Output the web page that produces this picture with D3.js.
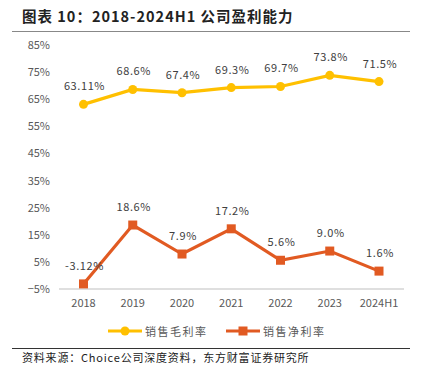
<!DOCTYPE html>
<html>
<head>
<meta charset="utf-8">
<script src="https://cdn.jsdelivr.net/npm/d3@7"></script>
<style>
  body { margin: 0; background: #fff; }
  svg text { font-family: "Noto Sans CJK SC", "DejaVu Sans", sans-serif; }
</style>
</head>
<body>
<div class="fig"></div>
<script>
var years = ["2018", "2019", "2020", "2021", "2022", "2023", "2024H1"];
var grossMargin = [63.11, 68.6, 67.4, 69.3, 69.7, 73.8, 71.5];
var netMargin = [-3.12, 18.6, 7.9, 17.2, 5.6, 9.0, 1.6];
var grossLabels = ["63.11%", "68.6%", "67.4%", "69.3%", "69.7%", "73.8%", "71.5%"];
var netLabels = ["-3.12%", "18.6%", "7.9%", "17.2%", "5.6%", "9.0%", "1.6%"];
var yTicks = [-5, 5, 15, 25, 35, 45, 55, 65, 75, 85];
var seriesNames = ["销售毛利率", "销售净利率"];

var width = 430, height = 375;
var yellow = "#FFC000", orange = "#E15A22";

var svg = d3.select(".fig").append("svg")
  .attr("width", width)
  .attr("height", height);

// title + rules
svg.append("text")
  .attr("x", 22).attr("y", 22)
  .style("font-size", "14.5px").style("font-weight", "bold").style("letter-spacing", "1px")
  .attr("fill", "#222")
  .text("图表 10：2018-2024H1 公司盈利能力");
svg.append("line").attr("x1", 12).attr("x2", 410).attr("y1", 31.5).attr("y2", 31.5)
  .attr("stroke", "#888").attr("stroke-width", 1.2);
svg.append("line").attr("x1", 12).attr("x2", 410).attr("y1", 348.5).attr("y2", 348.5)
  .attr("stroke", "#333").attr("stroke-width", 1);
svg.append("text")
  .attr("x", 22).attr("y", 362)
  .style("font-size", "11px").style("letter-spacing", "0.8px").attr("fill", "#222")
  .text("资料来源：Choice公司深度资料，东方财富证券研究所");

var x = d3.scalePoint().domain(years).range([83.5, 379]);
var y = d3.scaleLinear().domain([-5, 85]).range([289, 45]);

// y axis labels
svg.append("g").selectAll("text")
  .data(yTicks).enter().append("text")
  .attr("x", 50).attr("y", d => y(d) + 4)
  .attr("text-anchor", "end")
  .style("font-size", "11px").attr("fill", "#595959")
  .text(d => (d < 0 ? "−" + Math.abs(d) : d) + "%");

// x axis
svg.append("line").attr("x1", 59).attr("x2", 404).attr("y1", y(-5)).attr("y2", y(-5))
  .attr("stroke", "#bfbfbf").attr("stroke-width", 1.2);
svg.append("g").selectAll("text")
  .data(years).enter().append("text")
  .attr("x", d => x(d)).attr("y", 307)
  .attr("text-anchor", "middle")
  .style("font-size", "11px").attr("fill", "#595959")
  .text(d => d);

var line = d3.line().x((d, i) => x(years[i])).y(d => y(d));

// gross margin
svg.append("path").datum(grossMargin)
  .attr("d", line).attr("fill", "none")
  .attr("stroke", yellow).attr("stroke-width", 3.2);
svg.append("g").selectAll("circle")
  .data(grossMargin).enter().append("circle")
  .attr("cx", (d, i) => x(years[i])).attr("cy", d => y(d))
  .attr("r", 4.5).attr("fill", yellow);
svg.append("g").selectAll("text")
  .data(grossMargin).enter().append("text")
  .attr("x", (d, i) => x(years[i]) + 1).attr("y", d => y(d) - 14)
  .attr("text-anchor", "middle")
  .style("font-size", "11px").style("letter-spacing", "0.6px").attr("fill", "#404040")
  .text((d, i) => grossLabels[i]);

// net margin
svg.append("path").datum(netMargin)
  .attr("d", line).attr("fill", "none")
  .attr("stroke", orange).attr("stroke-width", 3.2);
svg.append("g").selectAll("rect")
  .data(netMargin).enter().append("rect")
  .attr("x", (d, i) => x(years[i]) - 4.5).attr("y", d => y(d) - 4.5)
  .attr("width", 9).attr("height", 9).attr("fill", orange);
svg.append("g").selectAll("text")
  .data(netMargin).enter().append("text")
  .attr("x", (d, i) => x(years[i]) + 1).attr("y", d => y(d) - 14)
  .attr("text-anchor", "middle")
  .style("font-size", "11px").style("letter-spacing", "0.6px").attr("fill", "#404040")
  .text((d, i) => netLabels[i]);

// legend
var legend = svg.append("g");
var legendX = [108, 226];
var legendColors = [yellow, orange];
seriesNames.forEach(function(name, i) {
  var lx = legendX[i];
  legend.append("line").attr("x1", lx).attr("x2", lx + 34).attr("y1", 331).attr("y2", 331)
    .attr("stroke", legendColors[i]).attr("stroke-width", 3.2);
  if (i == 0) {
    legend.append("circle").attr("cx", lx + 17).attr("cy", 331).attr("r", 4.5).attr("fill", legendColors[i]);
  } else {
    legend.append("rect").attr("x", lx + 12.5).attr("y", 326.5).attr("width", 9).attr("height", 9).attr("fill", legendColors[i]);
  }
  legend.append("text").attr("x", lx + 37).attr("y", 335.5)
    .style("font-size", "11px").style("letter-spacing", "1.5px").attr("fill", "#595959")
    .text(name);
});
</script>
</body>
</html>
